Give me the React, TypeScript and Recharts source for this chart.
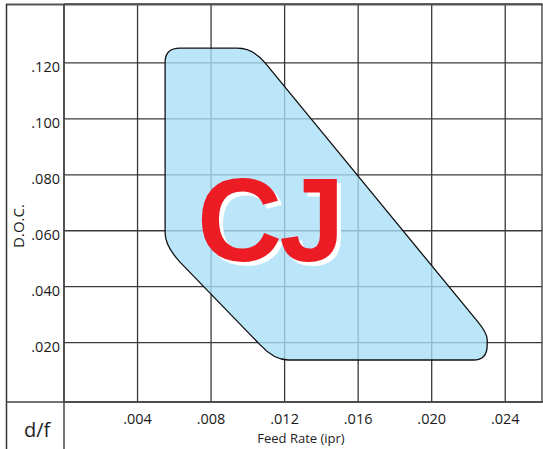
import React from 'react';
import { ComposedChart, Scatter, XAxis, YAxis, CartesianGrid, Customized } from 'recharts';

// Outline of the operating region (feed rate in ipr, depth of cut), traced clockwise.
// Points flagged in cornerCtrl are the sharp corner vertices used as curve controls.
const feedRate = [0.0055, 0.0055, 0.0055, 0.00631, 0.00942, 0.01029, 0.01094, 0.02248, 0.02302, 0.02302, 0.02302, 0.02302, 0.02226, 0.01219, 0.01143, 0.01067, 0.00631, 0.0055];
const doc = [0.0592, 0.1203, 0.1253, 0.1253, 0.1253, 0.1253, 0.12, 0.0277, 0.0235, 0.021, 0.0192, 0.0138, 0.0138, 0.0138, 0.0138, 0.0192, 0.0488, 0.0546];
const cornerCtrl = [false, false, true, false, false, true, false, false, true, false, false, true, false, false, true, false, false, true];

const xTicks = [0.004, 0.008, 0.012, 0.016, 0.02, 0.024];
const yTicks = [0.02, 0.04, 0.06, 0.08, 0.1, 0.12];
const xLabel = 'Feed Rate (ipr)';
const yLabel = 'D.O.C.';
const cornerLabel = 'd/f';
const regionLabel = 'CJ';

const data = feedRate.map((x, i) => ({ x, y: doc[i] }));
const fmt = (v: number) => v.toFixed(3).replace(/^0/, '');
const FONT = '"Open Sans", "Noto Sans", sans-serif';

function renderRegion(props: any) {
  const pts = props.points || [];
  if (!pts.length) return <g />;
  let d = `M${pts[0].x},${pts[0].y}`;
  let i = 1;
  while (i < pts.length) {
    if (cornerCtrl[i]) {
      const next = pts[(i + 1) % pts.length];
      d += ` Q${pts[i].x},${pts[i].y} ${next.x},${next.y}`;
      i += 2;
    } else {
      d += ` L${pts[i].x},${pts[i].y}`;
      i += 1;
    }
  }
  d += ' Z';
  return <path d={d} fill="#a8def6" fillOpacity={0.78} stroke="#111" strokeWidth={1.3} />;
}

const XTick = (p: any) => (
  <text x={p.x} y={p.y + 22} textAnchor="middle" fontFamily={FONT} fontSize={14.5} fill="#1a1a1a">
    {fmt(p.payload.value)}
  </text>
);

const YTick = (p: any) => (
  <text x={p.x - 4} y={p.y + 9} textAnchor="end" fontFamily={FONT} fontSize={14.5} fill="#1a1a1a">
    {fmt(p.payload.value)}
  </text>
);

const Frame = () => (
  <g>
    <line x1={6} y1={4.5} x2={543} y2={4.5} stroke="#555" strokeWidth={2.2} />
    <line x1={6.5} y1={4} x2={6.5} y2={449} stroke="#333" strokeWidth={1.5} />
    <line x1={6} y1={402} x2={543} y2={402} stroke="#444" strokeWidth={1.5} />
    <line x1={64} y1={4} x2={64} y2={449} stroke="#444" strokeWidth={1.5} />
    <text x={301} y={443} textAnchor="middle" fontFamily={FONT} fontSize={13} fill="#222">{xLabel}</text>
    <text x={24} y={437} fontFamily={FONT} fontSize={20} fill="#222">{cornerLabel}</text>
    <text transform="translate(24,226) rotate(-90)" textAnchor="middle" fontFamily={FONT} fontSize={15} fill="#222">{yLabel}</text>
  </g>
);

export default function App() {
  return (
    <div style={{ position: 'absolute', left: 0, top: 0, width: 543, height: 449, background: '#fff' }}>
      <ComposedChart width={543} height={449} data={data} margin={{ top: 4, right: 1, bottom: 0, left: 6 }}>
        <CartesianGrid stroke="#3a3a3a" strokeWidth={1.3} horizontal vertical />
        <XAxis
          type="number"
          dataKey="x"
          domain={[0, 0.026]}
          ticks={xTicks}
          height={47}
          axisLine={false}
          tickLine={false}
          tickSize={0}
          tickMargin={0}
          tick={<XTick />}
          interval={0}
          allowDataOverflow
        />
        <YAxis
          type="number"
          dataKey="y"
          domain={[-0.00122, 0.14108]}
          ticks={yTicks}
          width={58}
          axisLine={false}
          tickLine={false}
          tickSize={0}
          tickMargin={0}
          tick={<YTick />}
          interval={0}
          allowDataOverflow
        />
        <Customized component={<Frame />} />
        <Scatter
          data={data}
          dataKey="y"
          line={renderRegion}
          lineType="joint"
          shape={() => <g />}
          isAnimationActive={false}
        />
      </ComposedChart>
      <svg
        width={543}
        height={449}
        style={{ position: 'absolute', left: 0, top: 0, pointerEvents: 'none' }}
      >
        <g fontFamily='"Liberation Sans", Arial, sans-serif' fontWeight="bold" fontSize={118}>
          <text x={201} y={265} fill="#ffffff" letterSpacing={-3}>{regionLabel}</text>
          <text x={197} y={261} fill="#ed1c24" letterSpacing={-3}>{regionLabel}</text>
        </g>
      </svg>
    </div>
  );
}
